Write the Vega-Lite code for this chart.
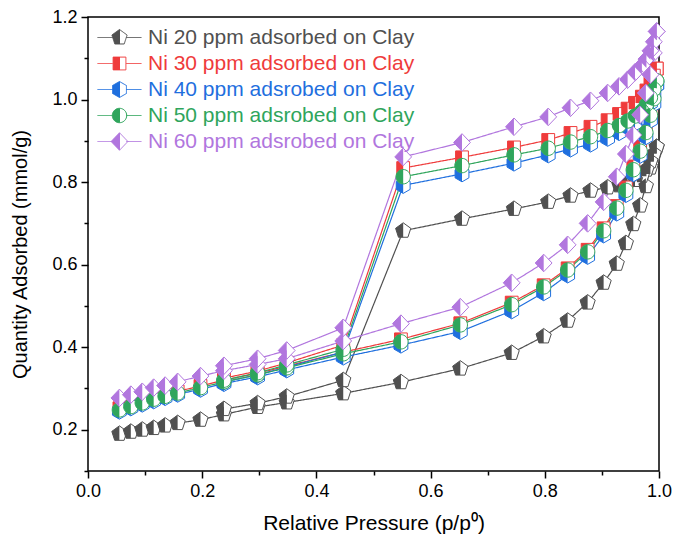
{
"$schema": "https://vega.github.io/schema/vega-lite/v6.json",
"width": 571, "height": 454,
"autosize": "none",
"padding": {"left": 88, "top": 17, "right": 19, "bottom": 69},
"background": "white",
"config": {"view": {"stroke": "black", "strokeWidth": 1.5}, "font": "Liberation Sans"},
"datasets": {"iso": [
{"s":"Ni 20 ppm adsorbed on Clay","b":"A","p":0.055,"q":0.190},{"s":"Ni 20 ppm adsorbed on Clay","b":"A","p":0.075,"q":0.195},{"s":"Ni 20 ppm adsorbed on Clay","b":"A","p":0.095,"q":0.200},{"s":"Ni 20 ppm adsorbed on Clay","b":"A","p":0.115,"q":0.204},{"s":"Ni 20 ppm adsorbed on Clay","b":"A","p":0.135,"q":0.210},{"s":"Ni 20 ppm adsorbed on Clay","b":"A","p":0.157,"q":0.216},{"s":"Ni 20 ppm adsorbed on Clay","b":"A","p":0.197,"q":0.224},{"s":"Ni 20 ppm adsorbed on Clay","b":"A","p":0.238,"q":0.237},{"s":"Ni 20 ppm adsorbed on Clay","b":"A","p":0.297,"q":0.255},{"s":"Ni 20 ppm adsorbed on Clay","b":"A","p":0.348,"q":0.266},{"s":"Ni 20 ppm adsorbed on Clay","b":"A","p":0.447,"q":0.288},{"s":"Ni 20 ppm adsorbed on Clay","b":"A","p":0.548,"q":0.315},{"s":"Ni 20 ppm adsorbed on Clay","b":"A","p":0.652,"q":0.348},{"s":"Ni 20 ppm adsorbed on Clay","b":"A","p":0.742,"q":0.386},{"s":"Ni 20 ppm adsorbed on Clay","b":"A","p":0.798,"q":0.426},{"s":"Ni 20 ppm adsorbed on Clay","b":"A","p":0.840,"q":0.464},{"s":"Ni 20 ppm adsorbed on Clay","b":"A","p":0.875,"q":0.508},{"s":"Ni 20 ppm adsorbed on Clay","b":"A","p":0.903,"q":0.556},{"s":"Ni 20 ppm adsorbed on Clay","b":"A","p":0.926,"q":0.602},{"s":"Ni 20 ppm adsorbed on Clay","b":"A","p":0.942,"q":0.652},{"s":"Ni 20 ppm adsorbed on Clay","b":"A","p":0.955,"q":0.698},{"s":"Ni 20 ppm adsorbed on Clay","b":"A","p":0.967,"q":0.743},{"s":"Ni 20 ppm adsorbed on Clay","b":"A","p":0.977,"q":0.790},{"s":"Ni 20 ppm adsorbed on Clay","b":"A","p":0.985,"q":0.835},{"s":"Ni 20 ppm adsorbed on Clay","b":"A","p":0.991,"q":0.865},{"s":"Ni 20 ppm adsorbed on Clay","b":"A","p":0.996,"q":0.885},
{"s":"Ni 20 ppm adsorbed on Clay","b":"D","p":0.996,"q":0.885},{"s":"Ni 20 ppm adsorbed on Clay","b":"D","p":0.991,"q":0.868},{"s":"Ni 20 ppm adsorbed on Clay","b":"D","p":0.985,"q":0.850},{"s":"Ni 20 ppm adsorbed on Clay","b":"D","p":0.978,"q":0.830},{"s":"Ni 20 ppm adsorbed on Clay","b":"D","p":0.970,"q":0.815},{"s":"Ni 20 ppm adsorbed on Clay","b":"D","p":0.958,"q":0.805},{"s":"Ni 20 ppm adsorbed on Clay","b":"D","p":0.945,"q":0.798},{"s":"Ni 20 ppm adsorbed on Clay","b":"D","p":0.930,"q":0.792},{"s":"Ni 20 ppm adsorbed on Clay","b":"D","p":0.910,"q":0.787},{"s":"Ni 20 ppm adsorbed on Clay","b":"D","p":0.880,"q":0.779},{"s":"Ni 20 ppm adsorbed on Clay","b":"D","p":0.845,"q":0.767},{"s":"Ni 20 ppm adsorbed on Clay","b":"D","p":0.806,"q":0.752},{"s":"Ni 20 ppm adsorbed on Clay","b":"D","p":0.746,"q":0.735},{"s":"Ni 20 ppm adsorbed on Clay","b":"D","p":0.655,"q":0.711},{"s":"Ni 20 ppm adsorbed on Clay","b":"D","p":0.552,"q":0.682},{"s":"Ni 20 ppm adsorbed on Clay","b":"D","p":0.447,"q":0.320},{"s":"Ni 20 ppm adsorbed on Clay","b":"D","p":0.348,"q":0.280},{"s":"Ni 20 ppm adsorbed on Clay","b":"D","p":0.297,"q":0.264},{"s":"Ni 20 ppm adsorbed on Clay","b":"D","p":0.238,"q":0.250},
{"s":"Ni 30 ppm adsorbed on Clay","b":"A","p":0.055,"q":0.252},{"s":"Ni 30 ppm adsorbed on Clay","b":"A","p":0.075,"q":0.260},{"s":"Ni 30 ppm adsorbed on Clay","b":"A","p":0.095,"q":0.269},{"s":"Ni 30 ppm adsorbed on Clay","b":"A","p":0.115,"q":0.278},{"s":"Ni 30 ppm adsorbed on Clay","b":"A","p":0.135,"q":0.285},{"s":"Ni 30 ppm adsorbed on Clay","b":"A","p":0.157,"q":0.293},{"s":"Ni 30 ppm adsorbed on Clay","b":"A","p":0.197,"q":0.306},{"s":"Ni 30 ppm adsorbed on Clay","b":"A","p":0.238,"q":0.320},{"s":"Ni 30 ppm adsorbed on Clay","b":"A","p":0.297,"q":0.337},{"s":"Ni 30 ppm adsorbed on Clay","b":"A","p":0.348,"q":0.354},{"s":"Ni 30 ppm adsorbed on Clay","b":"A","p":0.447,"q":0.388},{"s":"Ni 30 ppm adsorbed on Clay","b":"A","p":0.548,"q":0.419},{"s":"Ni 30 ppm adsorbed on Clay","b":"A","p":0.652,"q":0.458},{"s":"Ni 30 ppm adsorbed on Clay","b":"A","p":0.742,"q":0.508},{"s":"Ni 30 ppm adsorbed on Clay","b":"A","p":0.798,"q":0.550},{"s":"Ni 30 ppm adsorbed on Clay","b":"A","p":0.840,"q":0.591},{"s":"Ni 30 ppm adsorbed on Clay","b":"A","p":0.875,"q":0.636},{"s":"Ni 30 ppm adsorbed on Clay","b":"A","p":0.903,"q":0.688},{"s":"Ni 30 ppm adsorbed on Clay","b":"A","p":0.926,"q":0.742},{"s":"Ni 30 ppm adsorbed on Clay","b":"A","p":0.942,"q":0.787},{"s":"Ni 30 ppm adsorbed on Clay","b":"A","p":0.955,"q":0.838},{"s":"Ni 30 ppm adsorbed on Clay","b":"A","p":0.967,"q":0.885},{"s":"Ni 30 ppm adsorbed on Clay","b":"A","p":0.977,"q":0.930},{"s":"Ni 30 ppm adsorbed on Clay","b":"A","p":0.985,"q":0.975},{"s":"Ni 30 ppm adsorbed on Clay","b":"A","p":0.991,"q":1.020},{"s":"Ni 30 ppm adsorbed on Clay","b":"A","p":0.996,"q":1.075},
{"s":"Ni 30 ppm adsorbed on Clay","b":"D","p":0.996,"q":1.075},{"s":"Ni 30 ppm adsorbed on Clay","b":"D","p":0.991,"q":1.058},{"s":"Ni 30 ppm adsorbed on Clay","b":"D","p":0.985,"q":1.040},{"s":"Ni 30 ppm adsorbed on Clay","b":"D","p":0.978,"q":1.022},{"s":"Ni 30 ppm adsorbed on Clay","b":"D","p":0.970,"q":1.007},{"s":"Ni 30 ppm adsorbed on Clay","b":"D","p":0.958,"q":0.992},{"s":"Ni 30 ppm adsorbed on Clay","b":"D","p":0.945,"q":0.978},{"s":"Ni 30 ppm adsorbed on Clay","b":"D","p":0.930,"q":0.965},{"s":"Ni 30 ppm adsorbed on Clay","b":"D","p":0.910,"q":0.950},{"s":"Ni 30 ppm adsorbed on Clay","b":"D","p":0.880,"q":0.934},{"s":"Ni 30 ppm adsorbed on Clay","b":"D","p":0.845,"q":0.919},{"s":"Ni 30 ppm adsorbed on Clay","b":"D","p":0.806,"q":0.902},{"s":"Ni 30 ppm adsorbed on Clay","b":"D","p":0.746,"q":0.884},{"s":"Ni 30 ppm adsorbed on Clay","b":"D","p":0.655,"q":0.860},{"s":"Ni 30 ppm adsorbed on Clay","b":"D","p":0.552,"q":0.834},{"s":"Ni 30 ppm adsorbed on Clay","b":"D","p":0.447,"q":0.405},{"s":"Ni 30 ppm adsorbed on Clay","b":"D","p":0.348,"q":0.362},{"s":"Ni 30 ppm adsorbed on Clay","b":"D","p":0.297,"q":0.342},{"s":"Ni 30 ppm adsorbed on Clay","b":"D","p":0.238,"q":0.325},
{"s":"Ni 40 ppm adsrobed on Clay","b":"A","p":0.055,"q":0.245},{"s":"Ni 40 ppm adsrobed on Clay","b":"A","p":0.075,"q":0.253},{"s":"Ni 40 ppm adsrobed on Clay","b":"A","p":0.095,"q":0.262},{"s":"Ni 40 ppm adsrobed on Clay","b":"A","p":0.115,"q":0.270},{"s":"Ni 40 ppm adsrobed on Clay","b":"A","p":0.135,"q":0.278},{"s":"Ni 40 ppm adsrobed on Clay","b":"A","p":0.157,"q":0.286},{"s":"Ni 40 ppm adsrobed on Clay","b":"A","p":0.197,"q":0.298},{"s":"Ni 40 ppm adsrobed on Clay","b":"A","p":0.238,"q":0.312},{"s":"Ni 40 ppm adsrobed on Clay","b":"A","p":0.297,"q":0.328},{"s":"Ni 40 ppm adsrobed on Clay","b":"A","p":0.348,"q":0.345},{"s":"Ni 40 ppm adsrobed on Clay","b":"A","p":0.447,"q":0.376},{"s":"Ni 40 ppm adsrobed on Clay","b":"A","p":0.548,"q":0.405},{"s":"Ni 40 ppm adsrobed on Clay","b":"A","p":0.652,"q":0.438},{"s":"Ni 40 ppm adsrobed on Clay","b":"A","p":0.742,"q":0.488},{"s":"Ni 40 ppm adsrobed on Clay","b":"A","p":0.798,"q":0.532},{"s":"Ni 40 ppm adsrobed on Clay","b":"A","p":0.840,"q":0.575},{"s":"Ni 40 ppm adsrobed on Clay","b":"A","p":0.875,"q":0.620},{"s":"Ni 40 ppm adsrobed on Clay","b":"A","p":0.903,"q":0.672},{"s":"Ni 40 ppm adsrobed on Clay","b":"A","p":0.926,"q":0.725},{"s":"Ni 40 ppm adsrobed on Clay","b":"A","p":0.942,"q":0.770},{"s":"Ni 40 ppm adsrobed on Clay","b":"A","p":0.955,"q":0.820},{"s":"Ni 40 ppm adsrobed on Clay","b":"A","p":0.967,"q":0.865},{"s":"Ni 40 ppm adsrobed on Clay","b":"A","p":0.977,"q":0.910},{"s":"Ni 40 ppm adsrobed on Clay","b":"A","p":0.985,"q":0.950},{"s":"Ni 40 ppm adsrobed on Clay","b":"A","p":0.991,"q":0.990},{"s":"Ni 40 ppm adsrobed on Clay","b":"A","p":0.996,"q":1.035},
{"s":"Ni 40 ppm adsrobed on Clay","b":"D","p":0.996,"q":1.035},{"s":"Ni 40 ppm adsrobed on Clay","b":"D","p":0.991,"q":1.012},{"s":"Ni 40 ppm adsrobed on Clay","b":"D","p":0.985,"q":0.992},{"s":"Ni 40 ppm adsrobed on Clay","b":"D","p":0.978,"q":0.972},{"s":"Ni 40 ppm adsrobed on Clay","b":"D","p":0.970,"q":0.957},{"s":"Ni 40 ppm adsrobed on Clay","b":"D","p":0.958,"q":0.943},{"s":"Ni 40 ppm adsrobed on Clay","b":"D","p":0.945,"q":0.932},{"s":"Ni 40 ppm adsrobed on Clay","b":"D","p":0.930,"q":0.920},{"s":"Ni 40 ppm adsrobed on Clay","b":"D","p":0.910,"q":0.906},{"s":"Ni 40 ppm adsrobed on Clay","b":"D","p":0.880,"q":0.892},{"s":"Ni 40 ppm adsrobed on Clay","b":"D","p":0.845,"q":0.880},{"s":"Ni 40 ppm adsrobed on Clay","b":"D","p":0.806,"q":0.866},{"s":"Ni 40 ppm adsrobed on Clay","b":"D","p":0.746,"q":0.846},{"s":"Ni 40 ppm adsrobed on Clay","b":"D","p":0.655,"q":0.820},{"s":"Ni 40 ppm adsrobed on Clay","b":"D","p":0.552,"q":0.792},{"s":"Ni 40 ppm adsrobed on Clay","b":"D","p":0.447,"q":0.388},{"s":"Ni 40 ppm adsrobed on Clay","b":"D","p":0.348,"q":0.352},{"s":"Ni 40 ppm adsrobed on Clay","b":"D","p":0.297,"q":0.333},{"s":"Ni 40 ppm adsrobed on Clay","b":"D","p":0.238,"q":0.316},
{"s":"Ni 50 ppm adsrobed on Clay","b":"A","p":0.055,"q":0.248},{"s":"Ni 50 ppm adsrobed on Clay","b":"A","p":0.075,"q":0.256},{"s":"Ni 50 ppm adsrobed on Clay","b":"A","p":0.095,"q":0.265},{"s":"Ni 50 ppm adsrobed on Clay","b":"A","p":0.115,"q":0.274},{"s":"Ni 50 ppm adsrobed on Clay","b":"A","p":0.135,"q":0.281},{"s":"Ni 50 ppm adsrobed on Clay","b":"A","p":0.157,"q":0.289},{"s":"Ni 50 ppm adsrobed on Clay","b":"A","p":0.197,"q":0.302},{"s":"Ni 50 ppm adsrobed on Clay","b":"A","p":0.238,"q":0.316},{"s":"Ni 50 ppm adsrobed on Clay","b":"A","p":0.297,"q":0.333},{"s":"Ni 50 ppm adsrobed on Clay","b":"A","p":0.348,"q":0.350},{"s":"Ni 50 ppm adsrobed on Clay","b":"A","p":0.447,"q":0.384},{"s":"Ni 50 ppm adsrobed on Clay","b":"A","p":0.548,"q":0.413},{"s":"Ni 50 ppm adsrobed on Clay","b":"A","p":0.652,"q":0.454},{"s":"Ni 50 ppm adsrobed on Clay","b":"A","p":0.742,"q":0.503},{"s":"Ni 50 ppm adsrobed on Clay","b":"A","p":0.798,"q":0.546},{"s":"Ni 50 ppm adsrobed on Clay","b":"A","p":0.840,"q":0.587},{"s":"Ni 50 ppm adsrobed on Clay","b":"A","p":0.875,"q":0.631},{"s":"Ni 50 ppm adsrobed on Clay","b":"A","p":0.903,"q":0.682},{"s":"Ni 50 ppm adsrobed on Clay","b":"A","p":0.926,"q":0.737},{"s":"Ni 50 ppm adsrobed on Clay","b":"A","p":0.942,"q":0.780},{"s":"Ni 50 ppm adsrobed on Clay","b":"A","p":0.955,"q":0.830},{"s":"Ni 50 ppm adsrobed on Clay","b":"A","p":0.967,"q":0.875},{"s":"Ni 50 ppm adsrobed on Clay","b":"A","p":0.977,"q":0.920},{"s":"Ni 50 ppm adsrobed on Clay","b":"A","p":0.985,"q":0.962},{"s":"Ni 50 ppm adsrobed on Clay","b":"A","p":0.991,"q":1.002},{"s":"Ni 50 ppm adsrobed on Clay","b":"A","p":0.996,"q":1.045},
{"s":"Ni 50 ppm adsrobed on Clay","b":"D","p":0.996,"q":1.045},{"s":"Ni 50 ppm adsrobed on Clay","b":"D","p":0.991,"q":1.025},{"s":"Ni 50 ppm adsrobed on Clay","b":"D","p":0.985,"q":1.005},{"s":"Ni 50 ppm adsrobed on Clay","b":"D","p":0.978,"q":0.988},{"s":"Ni 50 ppm adsrobed on Clay","b":"D","p":0.970,"q":0.972},{"s":"Ni 50 ppm adsrobed on Clay","b":"D","p":0.958,"q":0.960},{"s":"Ni 50 ppm adsrobed on Clay","b":"D","p":0.945,"q":0.948},{"s":"Ni 50 ppm adsrobed on Clay","b":"D","p":0.930,"q":0.937},{"s":"Ni 50 ppm adsrobed on Clay","b":"D","p":0.910,"q":0.925},{"s":"Ni 50 ppm adsrobed on Clay","b":"D","p":0.880,"q":0.910},{"s":"Ni 50 ppm adsrobed on Clay","b":"D","p":0.845,"q":0.897},{"s":"Ni 50 ppm adsrobed on Clay","b":"D","p":0.806,"q":0.882},{"s":"Ni 50 ppm adsrobed on Clay","b":"D","p":0.746,"q":0.866},{"s":"Ni 50 ppm adsrobed on Clay","b":"D","p":0.655,"q":0.840},{"s":"Ni 50 ppm adsrobed on Clay","b":"D","p":0.552,"q":0.813},{"s":"Ni 50 ppm adsrobed on Clay","b":"D","p":0.447,"q":0.395},{"s":"Ni 50 ppm adsrobed on Clay","b":"D","p":0.348,"q":0.357},{"s":"Ni 50 ppm adsrobed on Clay","b":"D","p":0.297,"q":0.338},{"s":"Ni 50 ppm adsrobed on Clay","b":"D","p":0.238,"q":0.320},
{"s":"Ni 60 ppm adsrobed on Clay","b":"A","p":0.055,"q":0.277},{"s":"Ni 60 ppm adsrobed on Clay","b":"A","p":0.075,"q":0.285},{"s":"Ni 60 ppm adsrobed on Clay","b":"A","p":0.095,"q":0.292},{"s":"Ni 60 ppm adsrobed on Clay","b":"A","p":0.115,"q":0.302},{"s":"Ni 60 ppm adsrobed on Clay","b":"A","p":0.135,"q":0.307},{"s":"Ni 60 ppm adsrobed on Clay","b":"A","p":0.157,"q":0.316},{"s":"Ni 60 ppm adsrobed on Clay","b":"A","p":0.197,"q":0.330},{"s":"Ni 60 ppm adsrobed on Clay","b":"A","p":0.238,"q":0.343},{"s":"Ni 60 ppm adsrobed on Clay","b":"A","p":0.297,"q":0.358},{"s":"Ni 60 ppm adsrobed on Clay","b":"A","p":0.348,"q":0.372},{"s":"Ni 60 ppm adsrobed on Clay","b":"A","p":0.447,"q":0.415},{"s":"Ni 60 ppm adsrobed on Clay","b":"A","p":0.548,"q":0.457},{"s":"Ni 60 ppm adsrobed on Clay","b":"A","p":0.652,"q":0.497},{"s":"Ni 60 ppm adsrobed on Clay","b":"A","p":0.742,"q":0.556},{"s":"Ni 60 ppm adsrobed on Clay","b":"A","p":0.798,"q":0.604},{"s":"Ni 60 ppm adsrobed on Clay","b":"A","p":0.840,"q":0.648},{"s":"Ni 60 ppm adsrobed on Clay","b":"A","p":0.875,"q":0.700},{"s":"Ni 60 ppm adsrobed on Clay","b":"A","p":0.903,"q":0.752},{"s":"Ni 60 ppm adsrobed on Clay","b":"A","p":0.926,"q":0.813},{"s":"Ni 60 ppm adsrobed on Clay","b":"A","p":0.942,"q":0.868},{"s":"Ni 60 ppm adsrobed on Clay","b":"A","p":0.955,"q":0.914},{"s":"Ni 60 ppm adsrobed on Clay","b":"A","p":0.967,"q":0.963},{"s":"Ni 60 ppm adsrobed on Clay","b":"A","p":0.977,"q":1.016},{"s":"Ni 60 ppm adsrobed on Clay","b":"A","p":0.985,"q":1.060},{"s":"Ni 60 ppm adsrobed on Clay","b":"A","p":0.991,"q":1.113},{"s":"Ni 60 ppm adsrobed on Clay","b":"A","p":0.996,"q":1.165},
{"s":"Ni 60 ppm adsrobed on Clay","b":"D","p":0.996,"q":1.165},{"s":"Ni 60 ppm adsrobed on Clay","b":"D","p":0.991,"q":1.140},{"s":"Ni 60 ppm adsrobed on Clay","b":"D","p":0.985,"q":1.118},{"s":"Ni 60 ppm adsrobed on Clay","b":"D","p":0.978,"q":1.098},{"s":"Ni 60 ppm adsrobed on Clay","b":"D","p":0.970,"q":1.082},{"s":"Ni 60 ppm adsrobed on Clay","b":"D","p":0.958,"q":1.066},{"s":"Ni 60 ppm adsrobed on Clay","b":"D","p":0.945,"q":1.048},{"s":"Ni 60 ppm adsrobed on Clay","b":"D","p":0.930,"q":1.032},{"s":"Ni 60 ppm adsrobed on Clay","b":"D","p":0.910,"q":1.016},{"s":"Ni 60 ppm adsrobed on Clay","b":"D","p":0.880,"q":0.997},{"s":"Ni 60 ppm adsrobed on Clay","b":"D","p":0.845,"q":0.980},{"s":"Ni 60 ppm adsrobed on Clay","b":"D","p":0.806,"q":0.958},{"s":"Ni 60 ppm adsrobed on Clay","b":"D","p":0.746,"q":0.934},{"s":"Ni 60 ppm adsrobed on Clay","b":"D","p":0.655,"q":0.896},{"s":"Ni 60 ppm adsrobed on Clay","b":"D","p":0.552,"q":0.861},{"s":"Ni 60 ppm adsrobed on Clay","b":"D","p":0.447,"q":0.447},{"s":"Ni 60 ppm adsrobed on Clay","b":"D","p":0.348,"q":0.392},{"s":"Ni 60 ppm adsrobed on Clay","b":"D","p":0.297,"q":0.372},{"s":"Ni 60 ppm adsrobed on Clay","b":"D","p":0.238,"q":0.355}
]},
"data": {"name": "iso"},
"encoding": {
  "x": {"field": "p", "type": "quantitative", "scale": {"domain": [0, 1], "nice": false},
    "axis": {"values": [0,0.1,0.2,0.3,0.4,0.5,0.6,0.7,0.8,0.9,1.0], "labelExpr": "round(datum.value*10)%2===0 ? format(datum.value,'.1f') : ''",
      "tickSize": {"condition": {"test": "round(datum.value*10)%2===0", "value": 7}, "value": 4},
      "title": "Relative Pressure (p/p⁰)", "grid": false, "domain": false, "tickColor": "black", "tickWidth": 1.5,
      "labelFontSize": 18, "labelColor": "black", "labelFont": "Liberation Sans", "labelPadding": 4, "labelFlush": false, "labelOverlap": false,
      "titleFontSize": 21, "titleFontWeight": "normal", "titleColor": "black", "titleFont": "Liberation Sans", "titlePadding": 12}},
  "y": {"field": "q", "type": "quantitative", "scale": {"domain": [0.1, 1.2], "nice": false},
    "axis": {"values": [0.1,0.2,0.3,0.4,0.5,0.6,0.7,0.8,0.9,1.0,1.1,1.2], "labelExpr": "round(datum.value*10)%2===0 ? format(datum.value,'.1f') : ''",
      "tickSize": {"condition": {"test": "round(datum.value*10)%2===0", "value": 7}, "value": 4},
      "title": "Quantity Adsorbed (mmol/g)", "grid": false, "domain": false, "tickColor": "black", "tickWidth": 1.5,
      "labelFontSize": 18, "labelColor": "black", "labelFont": "Liberation Sans", "labelPadding": 4, "labelFlush": false, "labelOverlap": false,
      "titleFontSize": 20, "titleFontWeight": "normal", "titleColor": "black", "titleFont": "Liberation Sans", "titleX": -58, "titleY": 237}},
  "color": {"field": "s", "type": "nominal",
    "scale": {"domain": ["Ni 20 ppm adsorbed on Clay","Ni 30 ppm adsorbed on Clay","Ni 40 ppm adsrobed on Clay","Ni 50 ppm adsrobed on Clay","Ni 60 ppm adsrobed on Clay"],
      "range": ["#505050","#EF3B3B","#1F6FDE","#2FA55C","#B176DE"]},
    "legend": null}
},
"layer": [
  {"mark": {"type": "line", "strokeWidth": 1.2}, "encoding": {"detail": {"field": "b"},
    "strokeDash": {"field": "s", "type": "nominal",
      "scale": {"range": [[1,0],[1,0],[1,0],[1,0],[1,0]]},
      "legend": {"orient": "none", "legendX": 21, "legendY": 10, "title": null, "padding": 0,
        "labelFontSize": 21, "labelFont": "Liberation Sans", "labelLimit": 500, "symbolSize": 256, "labelOffset": 18, "rowPadding": 4,
        "encode": {
          "labels": {"update": {"fill": {"signal": "scale('color', datum.value)"}}},
          "symbols": {"update": {
            "shape": {"signal": "'M-2.75,0H-0.85M0.85,0H2.75' + scale('shape', datum.value)"},
            "stroke": {"signal": "scale('color', datum.value)"},
            "strokeWidth": {"value": 1},
            "opacity": {"value": 1}, "fillOpacity": {"value": 1}, "strokeOpacity": {"value": 1},
            "fill": {"signal": "{gradient: 'linear', x1: 0, y1: 0, x2: 1, y2: 0, stops: [{offset: 0, color: scale('color', datum.value)}, {offset: 0.5, color: scale('color', datum.value)}, {offset: 0.5, color: 'white'}, {offset: 1, color: 'white'}]}"}
          }}
        }}}}},
  {"transform": [{"filter": "datum.s === 'Ni 20 ppm adsorbed on Clay'"}], "mark": {"type": "point", "filled": false, "fill": "white", "fillOpacity": 1, "opacity": 1, "size": 256, "strokeWidth": 1},
   "encoding": {"shape": {"field": "s", "type": "nominal", "legend": null,
     "scale": {"domain": ["Ni 20 ppm adsorbed on Clay","Ni 30 ppm adsorbed on Clay","Ni 40 ppm adsrobed on Clay","Ni 50 ppm adsrobed on Clay","Ni 60 ppm adsrobed on Clay"],
       "range": ["M0,-1L0.951,-0.309L0.588,0.809L-0.588,0.809L-0.951,-0.309Z","M-0.8,-0.8H0.8V0.8H-0.8Z","M0,-1L0.866,-0.5L0.866,0.5L0,1L-0.866,0.5L-0.866,-0.5Z","M-0.9,0A0.9,0.9 0 1,1 0.9,0A0.9,0.9 0 1,1 -0.9,0Z","M0,-1.1L1.05,0L0,1.1L-1.05,0Z"]}}}},
  {"transform": [{"filter": "datum.s === 'Ni 20 ppm adsorbed on Clay'"}], "mark": {"type": "point", "filled": true, "opacity": 1, "size": 256, "strokeWidth": 0, "shape": "M0,-1L-0.951,-0.309L-0.588,0.809L0,0.809Z"}},
  {"transform": [{"filter": "datum.s === 'Ni 30 ppm adsorbed on Clay'"}], "mark": {"type": "point", "filled": false, "fill": "white", "fillOpacity": 1, "opacity": 1, "size": 256, "strokeWidth": 1}, "encoding": {"shape": {"field": "s", "type": "nominal", "legend": null}}},
  {"transform": [{"filter": "datum.s === 'Ni 30 ppm adsorbed on Clay'"}], "mark": {"type": "point", "filled": true, "opacity": 1, "size": 256, "strokeWidth": 0, "shape": "M-0.8,-0.8H0V0.8H-0.8Z"}},
  {"transform": [{"filter": "datum.s === 'Ni 40 ppm adsrobed on Clay'"}], "mark": {"type": "point", "filled": false, "fill": "white", "fillOpacity": 1, "opacity": 1, "size": 256, "strokeWidth": 1}, "encoding": {"shape": {"field": "s", "type": "nominal", "legend": null}}},
  {"transform": [{"filter": "datum.s === 'Ni 40 ppm adsrobed on Clay'"}], "mark": {"type": "point", "filled": true, "opacity": 1, "size": 256, "strokeWidth": 0, "shape": "M0,-1L-0.866,-0.5L-0.866,0.5L0,1Z"}},
  {"transform": [{"filter": "datum.s === 'Ni 50 ppm adsrobed on Clay'"}], "mark": {"type": "point", "filled": false, "fill": "white", "fillOpacity": 1, "opacity": 1, "size": 256, "strokeWidth": 1}, "encoding": {"shape": {"field": "s", "type": "nominal", "legend": null}}},
  {"transform": [{"filter": "datum.s === 'Ni 50 ppm adsrobed on Clay'"}], "mark": {"type": "point", "filled": true, "opacity": 1, "size": 256, "strokeWidth": 0, "shape": "M0,-0.9A0.9,0.9 0 0,0 0,0.9Z"}},
  {"transform": [{"filter": "datum.s === 'Ni 60 ppm adsrobed on Clay'"}], "mark": {"type": "point", "filled": false, "fill": "white", "fillOpacity": 1, "opacity": 1, "size": 256, "strokeWidth": 1}, "encoding": {"shape": {"field": "s", "type": "nominal", "legend": null}}},
  {"transform": [{"filter": "datum.s === 'Ni 60 ppm adsrobed on Clay'"}], "mark": {"type": "point", "filled": true, "opacity": 1, "size": 256, "strokeWidth": 0, "shape": "M0,-1.1L-1.05,0L0,1.1Z"}}
]
}
